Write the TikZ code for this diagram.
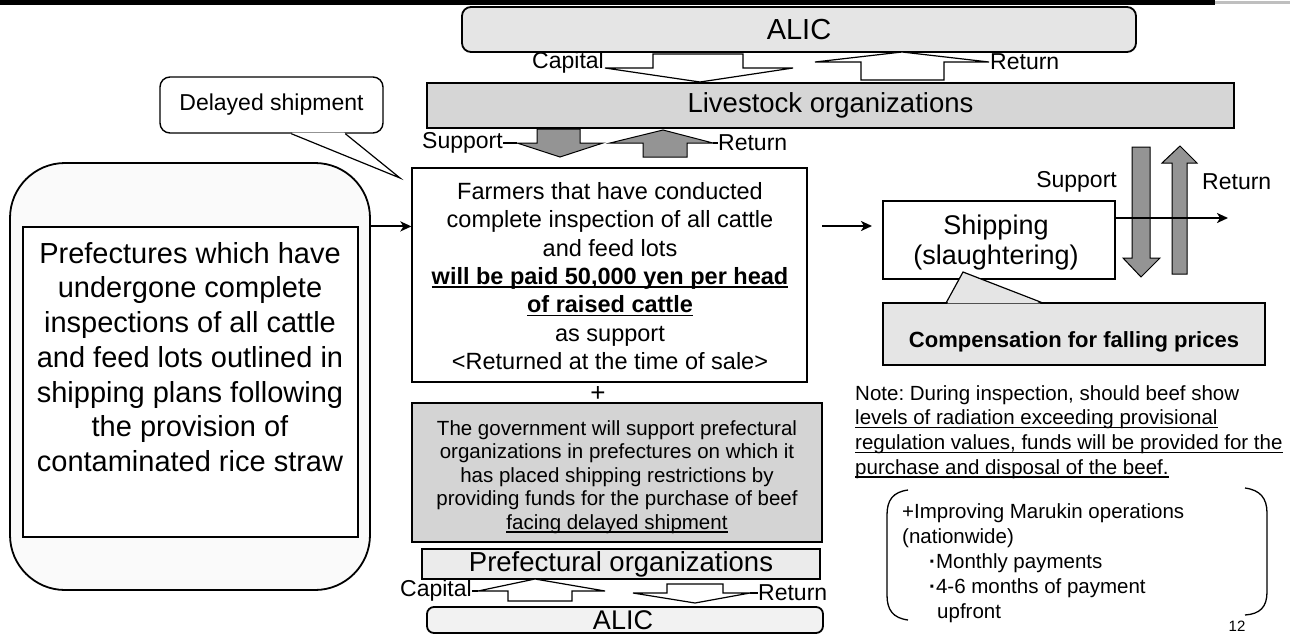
\documentclass[tikz,border=0pt]{standalone}
\usepackage{fontspec}
\setmainfont{Liberation Sans}
\usetikzlibrary{arrows.meta,calc}
\definecolor{alicA}{gray}{0.90}
\definecolor{alicB}{gray}{0.95}
\definecolor{liveF}{gray}{0.84}
\definecolor{govF}{gray}{0.83}
\definecolor{prefF}{gray}{0.92}
\definecolor{compF}{gray}{0.90}
\definecolor{bigF}{gray}{0.98}
\definecolor{arrG}{gray}{0.58}
\newcommand\myuline[1]{\setbox0\hbox{#1}\rlap{\rule[-3.4pt]{\wd0}{1.4pt}}\box0}
\frenchspacing
\begin{document}
\begin{tikzpicture}[x=1pt,y=-1pt,
  box/.style={draw=black,line width=1.4pt,inner sep=0pt},
  txt/.style={inner sep=0pt},
  conn/.style={-{Stealth[length=11pt,width=10pt,inset=3pt]},line width=2pt},
  hollow/.style={draw=black,line width=1.2pt,fill=white,line join=miter},
  grayarr/.style={draw=black,line width=1pt,fill=arrG,line join=miter},
  lbl/.style={inner sep=0pt,font=\fontsize{23}{26}\selectfont},
  thin/.style={line width=1.2pt}
]
\useasboundingbox (0,0) rectangle (1290,635);
% top bar
\fill[black] (0,0) rectangle (1215,5);
\fill[gray!50] (1215,1) rectangle (1290,4);

% ---- top ALIC / Livestock
\node[box,line width=1.8pt,rounded corners=9pt,fill=alicA,minimum width=674pt,minimum height=45pt,
  font=\fontsize{29}{30}\selectfont] (alicT) at (799,29.5) {ALIC};
\node[box,fill=liveF,minimum width=807pt,minimum height=45pt,
  font=\fontsize{27.5}{30}\selectfont] (live) at (830.5,105.5) {Livestock organizations};

% Capital (down) arrow
\draw[hollow] (605,68)--(653,68)--(653,54)--(743,54)--(743,68)--(793,68)--(700,82)--cycle;
\node[lbl,anchor=base east] (capT) at (604,68) {Capital};
% Return (up) arrow
\draw[hollow] (815,62)--(861,62)--(861,80)--(944,80)--(944,62)--(989,62)--(902,52)--cycle;
\node[lbl,anchor=west] (retT) at (990,62) {Return};

% middle Support / Return
\draw[grayarr] (517,143)--(537,143)--(537,129)--(580,129)--(580,143)--(603,143)--(560,157)--cycle;
\draw[grayarr] (610,143)--(643,143)--(643,157)--(687,157)--(687,143)--(713,143)--(663,130)--cycle;
\node[lbl,anchor=east] (supL) at (503,143) {Support};
\node[lbl,anchor=west] (retL) at (718,143) {Return};
\draw[thin] (supL.east) -- (517,143);
\draw[thin] (713,143) -- (retL.west);

% ---- Delayed shipment callout
\node[box,rounded corners=10pt,fill=white,minimum width=223pt,minimum height=56pt,
  font=\fontsize{23}{25}\selectfont] (delay) at (271.5,105) {Delayed shipment};
\coordinate (dtip) at (400,178);
\fill[white] ($(delay.south west)+(133,-1)$) -- ($(delay.south west)+(185,-1)$) -- ($(delay.south west)+(186,0)$) -- (dtip) -- ($(delay.south west)+(132,0)$) -- cycle;
\draw[line width=1.2pt] ($(delay.south west)+(132,0)$) -- (dtip) -- ($(delay.south west)+(186,0)$);

% ---- left big box
\node[box,line width=1.8pt,rounded corners=55pt,fill=bigF,minimum width=360pt,minimum height=427pt] (bigbox) at (190,376.5) {};
\node[box,line width=1.2pt,fill=white,minimum width=335pt,minimum height=310pt] (inner) at (190.5,382) {};
\node[txt,align=center,font=\fontsize{29}{34.7}\selectfont] (preftxt) at (190,357) {Prefectures which have\\undergone complete\\inspections of all cattle\\and feed lots outlined in\\shipping plans following\\the provision of\\contaminated rice straw};

% ---- farmers box
\node[box,line width=1.2pt,fill=white,minimum width=395pt,minimum height=214pt] (farm) at (609.5,275) {};
\node[txt,align=center,font=\fontsize{23.5}{28.3}\selectfont] (farmtxt) at (610,276) {Farmers that have conducted\\complete inspection of all cattle\\and feed lots\\\myuline{\bfseries will be paid 50,000 yen per head}\\\myuline{\bfseries of raised cattle}\\as support\\<Returned at the time of sale>};

\draw[conn] (bigbox.east |- inner.north) -- (farm.west |- inner.north);

\node[txt,font=\fontsize{26}{28}\selectfont] (plus) at (598,394) {+};

% ---- government box
\node[box,line width=1.2pt,fill=govF,minimum width=410pt,minimum height=139pt] (gov) at (617,472.5) {};
\node[txt,align=center,font=\fontsize{20.5}{23.5}\selectfont] (govtxt) at (617,477) {The government will support prefectural\\organizations in prefectures on which it\\has placed shipping restrictions by\\providing funds for the purchase of beef\\\myuline{facing delayed shipment}};

% ---- bottom prefectural / ALIC
\node[box,fill=prefF,minimum width=398pt,minimum height=30pt,
  font=\fontsize{27.5}{29}\selectfont] (pref) at (621,564) {Prefectural organizations};
\node[box,line width=1.8pt,rounded corners=7pt,fill=alicB,minimum width=396pt,minimum height=26pt] (alicB) at (625,620) {};
\node[txt,font=\fontsize{27}{28}\selectfont] (alicBt) at (623,620.5) {ALIC};

\draw[hollow] (478,591)--(508,591)--(508,601)--(572,601)--(572,591)--(605,591)--(535,579)--cycle;
\node[lbl,anchor=east] (capB) at (472,591) {Capital};
\draw[thin] (capB.east) -- (478,591);
\draw[hollow] (633,593)--(667,593)--(667,584)--(723,584)--(723,593)--(750,593)--(695,603)--cycle;
\node[lbl,anchor=west] (retB) at (758,593) {Return};
\draw[thin] (750,593) -- (retB.west);

% ---- shipping
\coordinate (fs1) at (822,226);
\coordinate (fs2) at (872,226);
\draw[conn] (fs1) -- (fs2);
\node[box,line width=1.2pt,fill=white,minimum width=232pt,minimum height=78pt] (ship) at (999,240) {};
\node[txt,align=center,font=\fontsize{27}{30}\selectfont] (shiptxt) at (996,243) {Shipping\\(slaughtering)};

% right vertical arrows
\draw[grayarr] (1132,147)--(1150,147)--(1150,258)--(1160,258)--(1141,277)--(1123,258)--(1132,258)--cycle;
\draw[grayarr] (1172,274)--(1187,274)--(1187,163)--(1197,163)--(1180,146)--(1162,163)--(1172,163)--cycle;
\node[lbl,anchor=east] (supR) at (1117,182) {Support};
\node[lbl,anchor=west] (retR) at (1202,182) {Return};
\coordinate (outR) at (1228,218);
\draw[conn] ($(ship.east)+(0,-22)$) -- (outR);

% ---- compensation callout
\node[box,line width=1.2pt,fill=compF,minimum width=382pt,minimum height=62pt] (comp) at (1074,334) {};
\node[txt,font=\fontsize{22}{24}\selectfont\bfseries] (comptxt) at (1074,342) {Compensation for falling prices};
\coordinate (ctip) at (963,272);
\fill[compF] ($(comp.north west)+(65,1)$) -- (ctip) -- ($(comp.north west)+(158,1)$) -- cycle;
\draw[line width=1.2pt] ($(comp.north west)+(64,0)$) -- (ctip) -- ($(comp.north west)+(159,0)$);

% ---- note
\node[txt,anchor=west,align=left,font=\fontsize{20.5}{24.7}\selectfont] (note) at (855,432) {Note: During inspection, should beef show\\\myuline{levels of radiation exceeding provisional}\\\myuline{regulation values, funds will be provided for the}\\\myuline{purchase and disposal of the beef.}};

% ---- Marukin brace
\draw[line width=1.3pt] (908,490) .. controls (893,492) and (887,500) .. (887,515) -- (887,595) .. controls (887,610) and (893,618) .. (908,620);
\draw[line width=1.3pt] (1245,488) .. controls (1260,490) and (1267,498) .. (1267,513) -- (1267,592) .. controls (1267,607) and (1260,614) .. (1245,615);
\node[txt,anchor=west,align=left,font=\fontsize{20.5}{25}\selectfont] (maru) at (902,563) {+Improving Marukin operations\\(nationwide)\\\hspace*{27pt}{\bfseries·}Monthly payments\\\hspace*{27pt}{\bfseries·}4-6 months of payment\\\hspace*{35pt}upfront};
\node[txt,font=\fontsize{15}{16}\selectfont] (pnum) at (1237,626) {12};
\end{tikzpicture}
\end{document}
